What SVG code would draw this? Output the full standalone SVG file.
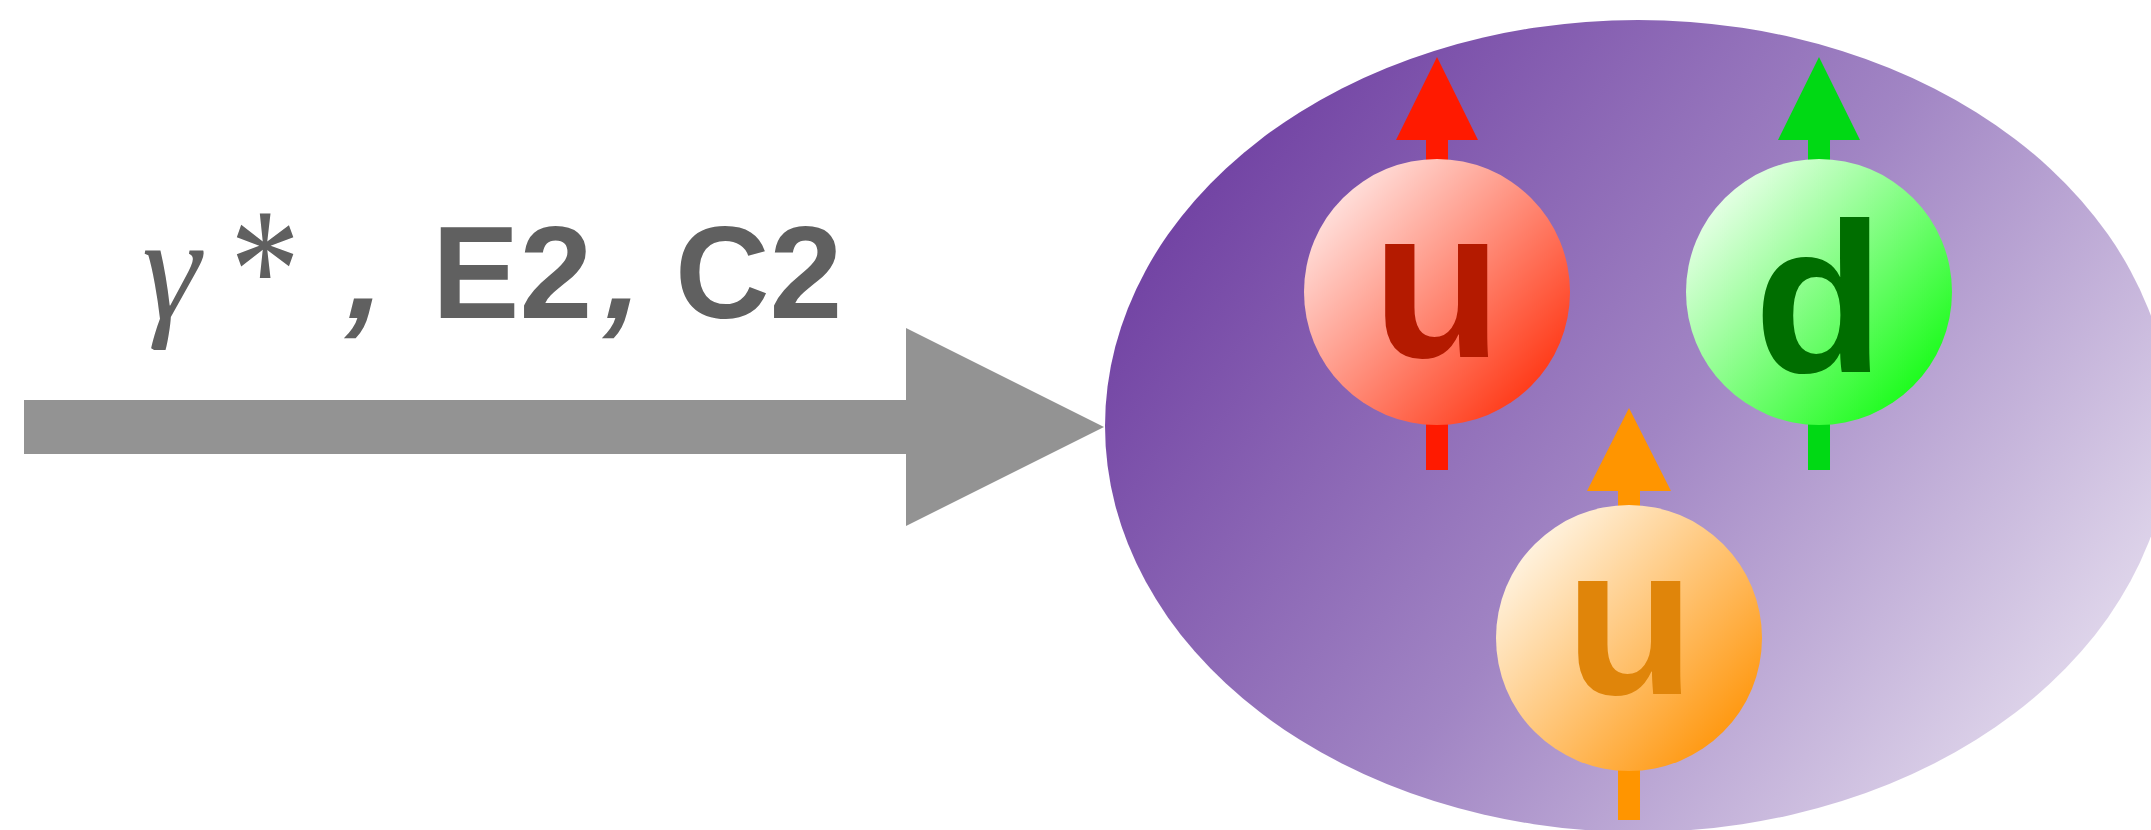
<svg xmlns="http://www.w3.org/2000/svg" width="2151" height="830" viewBox="0 0 2151 830">
  <defs>
    <linearGradient id="protonFill" gradientUnits="userSpaceOnUse" x1="1150" y1="100" x2="2120" y2="820">
      <stop offset="0" stop-color="#6a389e"/>
      <stop offset="0.5" stop-color="#a185c4"/>
      <stop offset="1" stop-color="#eee9f4"/>
    </linearGradient>
    <linearGradient id="redFill" x1="0.12" y1="0.15" x2="0.88" y2="0.85">
      <stop offset="0" stop-color="#ffe0dc"/>
      <stop offset="1" stop-color="#ff3a18"/>
    </linearGradient>
    <linearGradient id="greenFill" x1="0.12" y1="0.15" x2="0.88" y2="0.85">
      <stop offset="0" stop-color="#e6ffe6"/>
      <stop offset="1" stop-color="#1cfc1c"/>
    </linearGradient>
    <linearGradient id="orangeFill" x1="0.12" y1="0.15" x2="0.88" y2="0.85">
      <stop offset="0" stop-color="#fff3e0"/>
      <stop offset="1" stop-color="#ff9810"/>
    </linearGradient>
    <style>
      .label { fill: #606060; }
      .sans { font-family: "Liberation Sans", Arial, sans-serif; font-weight: bold; }
      .serif { font-family: "Liberation Serif", "Times New Roman", serif; }
      .flavour { font-family: "Liberation Sans", Arial, sans-serif; font-weight: bold; font-size: 213px; text-anchor: middle; }
      .beam { fill: #939393; }
    </style>
  </defs>

  <!-- incoming probe label -->
  <g id="probe-label" class="label">
    <text class="serif" x="142" y="318" font-size="148" font-style="italic">γ</text>
    <text class="serif" transform="translate(230,329) scale(1,1.25)" x="0" y="0" font-size="140">*</text>
    <text class="sans" transform="translate(340,318) skewX(-14)" x="0" y="0" font-size="131">,</text>
    <text class="sans" x="432" y="318" font-size="131">E2</text>
    <text class="sans" transform="translate(598,318) skewX(-14)" x="0" y="0" font-size="131">,</text>
    <text class="sans" x="675" y="318" font-size="131">C2</text>
  </g>

  <!-- proton body -->
  <g id="proton">
    <ellipse cx="1638" cy="426" rx="533" ry="406" fill="url(#protonFill)"/>
  </g>

  <!-- connectors: incoming beam -->
  <g id="connectors">
    <polygon class="beam" points="24,400 906,400 906,328 1104,427 906,526 906,454 24,454"/>
  </g>

  <!-- up quark, red -->
  <g id="quark-u-red">
    <polygon fill="#ff1a00" points="1437,57 1478,140 1448,140 1448,470 1426,470 1426,140 1396,140"/>
    <circle cx="1437" cy="292" r="133" fill="url(#redFill)"/>
    <text class="flavour" x="1437" y="357" fill="#b41a00">u</text>
  </g>

  <!-- down quark, green -->
  <g id="quark-d-green">
    <polygon fill="#00d914" points="1819,57 1860,140 1830,140 1830,470 1808,470 1808,140 1778,140"/>
    <circle cx="1819" cy="292" r="133" fill="url(#greenFill)"/>
    <text class="flavour" x="1819" y="372" fill="#006e00">d</text>
  </g>

  <!-- up quark, orange -->
  <g id="quark-u-orange">
    <polygon fill="#ff9500" points="1629,408 1671,491 1640,491 1640,820 1618,820 1618,491 1587,491"/>
    <circle cx="1629" cy="638" r="133" fill="url(#orangeFill)"/>
    <text class="flavour" x="1630" y="694" fill="#e0850a">u</text>
  </g>
</svg>
